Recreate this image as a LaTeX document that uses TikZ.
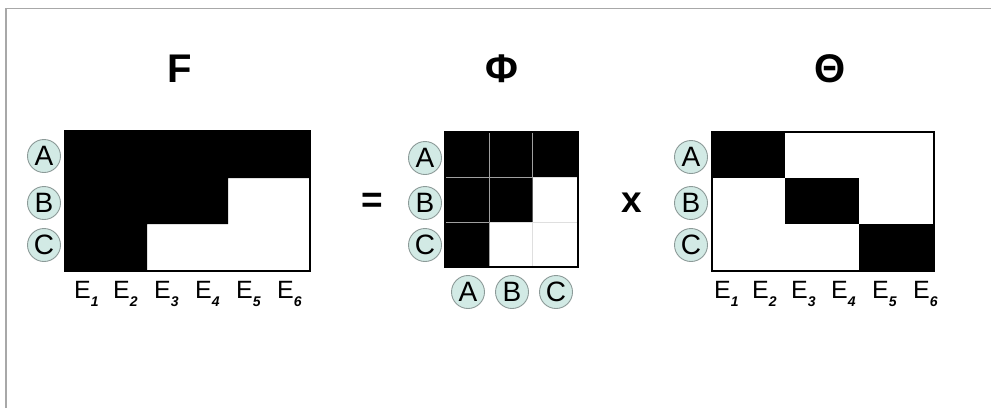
\documentclass[tikz,border=0pt]{standalone}
\usepackage{fontspec}
\setmainfont{Liberation Sans}
\definecolor{circfill}{HTML}{D2EAE5}
\definecolor{circdraw}{HTML}{8C9A98}
\definecolor{framegray}{HTML}{A8A8A8}
\tikzset{
  lbl/.style={circle, fill=circfill, draw=circdraw, line width=0.9pt, minimum size=33pt, inner sep=0pt, font=\fontsize{28}{28}\selectfont},
  title/.style={font=\fontsize{40}{40}\selectfont\bfseries, inner sep=0pt, anchor=base},
  op/.style={font=\fontsize{37}{37}\selectfont\bfseries, inner sep=0pt},
  elbl/.style={font=\fontsize{25}{25}\selectfont, inner sep=0pt, anchor=base west},
  mborder/.style={draw=black, line width=2pt},
  gridd/.style={draw=gray!75, line width=0.6pt},
  gridl/.style={draw=gray!25, line width=0.6pt}
}
\newcommand{\esub}[1]{E\raisebox{-8pt}{\fontsize{14}{14}\selectfont\bfseries\itshape #1}}
\begin{document}
\begin{tikzpicture}[x=1pt,y=-1pt]
\useasboundingbox (0,0) rectangle (991,408);
\fill[white] (0,0) rectangle (991,408);
% frame
\draw[framegray, line width=1.6pt] (6,408) -- (6,8.5) -- (991,8.5);

% titles
\node[title] (tF) at (180,82) {F};
\node[title] (tPhi) at (501.5,82) {Φ};
\node[title] (tTheta) at (830,82) {Θ};

% F matrix
\fill[white] (65,131) rectangle (310,271);
\fill[black] (65,131) -- (310,131) -- (310,178) -- (228,178) -- (228,224) -- (147,224) -- (147,271) -- (65,271) -- cycle;
\draw[mborder] (65,131) rectangle (310,271);
\node[lbl] (fA) at (44,156) {A};
\node[lbl] (fB) at (44,203) {B};
\node[lbl] (fC) at (44,245) {C};
\node[elbl] (fe1) at (74,298) {\esub{1}};
\node[elbl] (fe2) at (113,298) {\esub{2}};
\node[elbl] (fe3) at (154,298) {\esub{3}};
\node[elbl] (fe4) at (195,298) {\esub{4}};
\node[elbl] (fe5) at (236,298) {\esub{5}};
\node[elbl] (fe6) at (277,298) {\esub{6}};

% equals
\node[op] (eq) at (372.7,203) {=};

% Phi matrix
\fill[white] (445,131.7) rectangle (578,267);
\fill[black] (445,131.7) -- (578,131.7) -- (578,177) -- (532.7,177) -- (532.7,222) -- (489.3,222) -- (489.3,267) -- (445,267) -- cycle;
\draw[gridd] (489.3,131.7) -- (489.3,222);
\draw[gridd] (532.7,131.7) -- (532.7,177);
\draw[gridd] (445,177) -- (532.7,177);
\draw[gridd] (445,222) -- (489.3,222);
\draw[gridl] (532.7,222) -- (532.7,267);
\draw[gridl] (532.7,222) -- (578,222);
\draw[mborder] (445,131.7) rectangle (578,267);
\node[lbl] (pA) at (425,158) {A};
\node[lbl] (pB) at (425,203) {B};
\node[lbl] (pC) at (425,245) {C};
\node[lbl] (pcA) at (468,292) {A};
\node[lbl] (pcB) at (512,292) {B};
\node[lbl] (pcC) at (556,292) {C};

% times
\node[op] (times) at (631.7,203) {x};

% Theta matrix
\fill[white] (711.7,131.7) rectangle (934,271);
\fill[black] (711.7,131.7) rectangle (785,178);
\fill[black] (785,178) rectangle (859,224);
\fill[black] (859,224) rectangle (934,271);
\draw[mborder] (711.7,131.7) rectangle (934,271);
\node[lbl] (tA) at (691,157) {A};
\node[lbl] (tB) at (691,203) {B};
\node[lbl] (tC) at (691,245) {C};
\node[elbl] (te1) at (714,298) {\esub{1}};
\node[elbl] (te2) at (752,298) {\esub{2}};
\node[elbl] (te3) at (791,298) {\esub{3}};
\node[elbl] (te4) at (831,298) {\esub{4}};
\node[elbl] (te5) at (872,298) {\esub{5}};
\node[elbl] (te6) at (913,298) {\esub{6}};
\end{tikzpicture}
\end{document}
